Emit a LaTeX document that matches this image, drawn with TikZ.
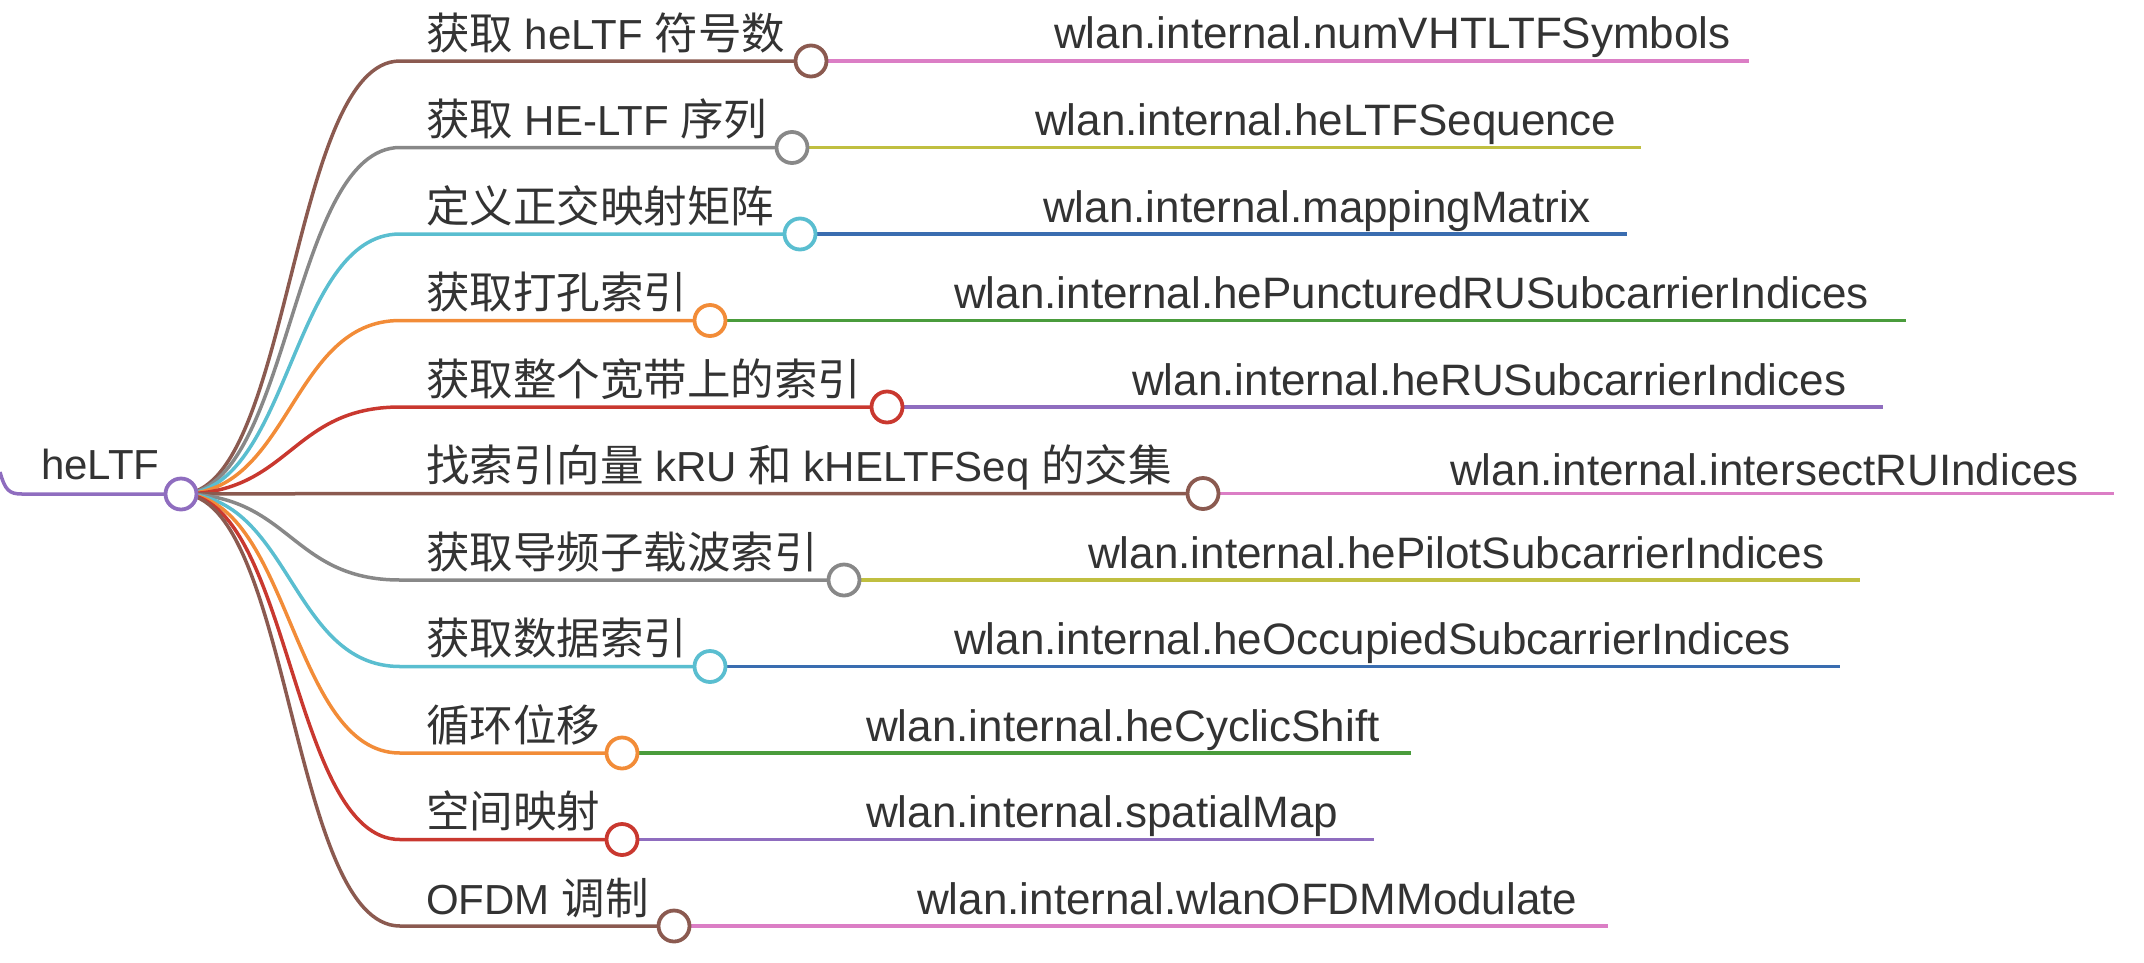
\documentclass[tikz,border=0pt]{standalone}
\usepackage{fontspec}
\setmainfont{Liberation Sans}
\newfontfamily\cjk{Noto Sans CJK SC}
\newcommand\zh[1]{{\cjk\fontsize{43.5}{50}\selectfont #1}}
\definecolor{txt}{HTML}{333333}
\definecolor{cpurple}{HTML}{8F6DBF}
\definecolor{cbrown}{HTML}{8B5A50}
\definecolor{cgray}{HTML}{888888}
\definecolor{ccyan}{HTML}{5ABED0}
\definecolor{corange}{HTML}{F28C38}
\definecolor{cred}{HTML}{C9382F}
\definecolor{cpink}{HTML}{DB7EC5}
\definecolor{colive}{HTML}{C0BF40}
\definecolor{cblue}{HTML}{3A6DB0}
\definecolor{cgreen}{HTML}{4A9C3C}
\begin{document}
\begin{tikzpicture}[x=1pt,y=-1pt,
  link/.style={line width=3.5pt},
  dot/.style={circle, draw, line width=3.8pt, fill=white, minimum size=31pt, inner sep=0pt},
  lbl/.style={anchor=base west, inner sep=0pt, text=txt, font=\fontsize{42}{50}\selectfont},
  fn/.style={lbl, font=\fontsize{44}{50}\selectfont},
]
\useasboundingbox (0,0) rectangle (2144,962);
\coordinate (r) at (181,494);
\coordinate (tail) at (0,472);
\draw[link,cpurple] (tail) .. controls (5,490) and (9,494) .. (22,494) -- (r);
\foreach \i/\y/\cx/\col/\rcol/\ex in {
  1/61/811/cbrown/cpink/1749,
  2/147.5/792/cgray/colive/1641,
  3/234/800/ccyan/cblue/1627,
  4/320.5/710/corange/cgreen/1906,
  5/407/887/cred/cpurple/1883,
  6/493.5/1203/cbrown/cpink/2114,
  7/580/844/cgray/colive/1860,
  8/666.5/710/ccyan/cblue/1840,
  9/753/622/corange/cgreen/1411,
  10/839.5/622/cred/cpurple/1374,
  11/926/674/cbrown/cpink/1608}{
  \coordinate (s\i) at (400,\y);
  \coordinate (k\i) at (\cx,\y);
  \coordinate (e\i) at (\ex,\y);
  \draw[link,\col] (r) .. controls (290.5,494) and (290.5,\y) .. (s\i) -- (k\i);
  \draw[link,\rcol] (k\i) -- (e\i);
  \node[dot,draw=\col] (c\i) at (k\i) {};
}
\node[dot,draw=cpurple] (root) at (r) {};
\node[lbl] (rootlbl) at (41,479) {heLTF};
% left labels
\node[lbl] (l1) at (426,49) {\zh{获取} heLTF \zh{符号数}};
\node[lbl] (l2) at (426,135.5) {\zh{获取} HE-LTF \zh{序列}};
\node[lbl] (l3) at (426,222) {\zh{定义正交映射矩阵}};
\node[lbl] (l4) at (426,308.5) {\zh{获取打孔索引}};
\node[lbl] (l5) at (426,395) {\zh{获取整个宽带上的索引}};
\node[lbl] (l6) at (426,481.5) {\zh{找索引向量} kRU \zh{和} kHELTFSeq \zh{的交集}};
\node[lbl] (l7) at (426,568) {\zh{获取导频子载波索引}};
\node[lbl] (l8) at (426,654.5) {\zh{获取数据索引}};
\node[lbl] (l9) at (426,741) {\zh{循环位移}};
\node[lbl] (l10) at (426,827.5) {\zh{空间映射}};
\node[lbl] (l11) at (426,914) {OFDM \zh{调制}};
% right labels
\node[fn] (f1) at (1054,48) {wlan.internal.numVHTLTFSymbols};
\node[fn] (f2) at (1035,135.5) {wlan.internal.heLTFSequence};
\node[fn] (f3) at (1043,222) {wlan.internal.mappingMatrix};
\node[fn] (f4) at (954,308.5) {wlan.internal.hePuncturedRUSubcarrierIndices};
\node[fn] (f5) at (1132,395) {wlan.internal.heRUSubcarrierIndices};
\node[fn] (f6) at (1450,485) {wlan.internal.intersectRUIndices};
\node[fn] (f7) at (1088,568) {wlan.internal.hePilotSubcarrierIndices};
\node[fn] (f8) at (954,654.5) {wlan.internal.heOccupiedSubcarrierIndices};
\node[fn] (f9) at (866,741) {wlan.internal.heCyclicShift};
\node[fn] (f10) at (866,827.5) {wlan.internal.spatialMap};
\node[fn] (f11) at (917,914) {wlan.internal.wlanOFDMModulate};
\end{tikzpicture}
\end{document}
